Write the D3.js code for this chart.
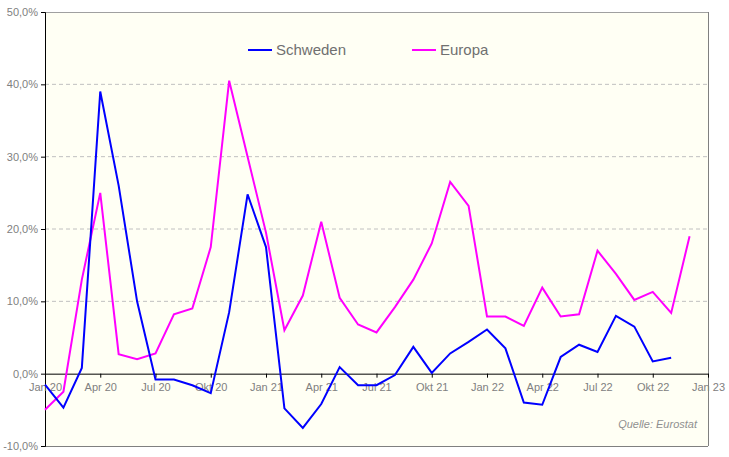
<!DOCTYPE html><html><head><meta charset="utf-8"><script src="https://d3js.org/d3.v7.min.js"></script>
<style>body{margin:0;background:#fff}svg{font-family:"Liberation Sans",Arial,sans-serif}</style></head><body><svg width="729" height="457"></svg>
<script>
const schweden=[-1.5,-4.7,0.8,39,26,10,-0.8,-0.8,-1.6,-2.7,8.5,24.8,17.5,-4.8,-7.5,-4.2,0.9,-1.6,-1.6,-0.2,3.7,0.1,2.8,4.4,6.1,3.5,-4.0,-4.3,2.3,4.0,3.0,8.0,6.5,1.7,2.2];
const europa=[-5.0,-2.5,13,25,2.7,2.0,2.8,8.2,9.0,17.5,40.5,30,19.5,6.0,10.8,21,10.5,6.8,5.7,9.2,13,18,26.5,23.2,7.9,7.9,6.6,11.9,7.9,8.2,17,13.8,10.2,11.3,8.4,19];
const xTickLabels=["Jan 20","Apr 20","Jul 20","Okt 20","Jan 21","Apr 21","Jul 21","Okt 21","Jan 22","Apr 22","Jul 22","Okt 22","Jan 23"];
const yTicks=[-10,0,10,20,30,40,50];
const svg=d3.select("svg");
const L=45,R=708,T=12,B=446;
svg.append("rect").attr("x",L).attr("y",T).attr("width",R-L).attr("height",B-T).attr("fill","#fffff4");
const x=d3.scaleLinear().domain([0,36]).range([L,R]);
const y=d3.scaleLinear().domain([-10,50]).range([B,T]);
const fmt=v=>v.toFixed(1).replace(".",",")+"%";
svg.append("g").selectAll("line").data(yTicks.filter(v=>v>0&&v<50)).join("line")
 .attr("x1",L).attr("x2",R).attr("y1",d=>y(d)).attr("y2",d=>y(d)).attr("stroke","#c0c0c0").attr("stroke-dasharray","4,3");
svg.append("line").attr("x1",L).attr("x2",R).attr("y1",T+0.5).attr("y2",T+0.5).attr("stroke","#a0a0a0");
svg.append("line").attr("x1",R+0.5).attr("x2",R+0.5).attr("y1",T).attr("y2",B).attr("stroke","#808080");
svg.append("line").attr("x1",L).attr("x2",R).attr("y1",B+0.5).attr("y2",B+0.5).attr("stroke","#808080");
const ya=svg.append("g").attr("transform",`translate(${L},0)`).call(d3.axisLeft(y).tickValues(yTicks).tickFormat(fmt).tickSize(4));
ya.select(".domain").attr("stroke","#000");
ya.selectAll("text").attr("fill","#808080").style("font-size","11px");
const xa=svg.append("g").attr("transform",`translate(0,${y(0)})`).call(d3.axisBottom(x).tickValues(d3.range(0,37,3)).tickFormat((d,i)=>xTickLabels[i]).tickSize(4).tickSizeOuter(0));
xa.select(".domain").attr("stroke","#000");
xa.selectAll("text").attr("fill","#808080").style("font-size","11px").attr("dy","0.9em");
const line=d3.line().x((d,i)=>x(i)).y(d=>y(d));
svg.append("path").datum(europa).attr("d",line).attr("fill","none").attr("stroke","#ff00ff").attr("stroke-width",2);
svg.append("path").datum(schweden).attr("d",line).attr("fill","none").attr("stroke","#0000ff").attr("stroke-width",2);
const leg=[["Schweden","#0000ff",248],["Europa","#ff00ff",412]];
leg.forEach(([t,c,lx])=>{svg.append("line").attr("x1",lx).attr("x2",lx+24).attr("y1",50).attr("y2",50).attr("stroke",c).attr("stroke-width",2);
 svg.append("text").attr("x",lx+28).attr("y",55).attr("fill","#707070").style("font-size","15px").text(t);});
svg.append("text").attr("x",697).attr("y",428).attr("text-anchor","end").attr("fill","#909090").style("font-size","11px").style("font-style","italic").text("Quelle: Eurostat");
</script></body></html>
